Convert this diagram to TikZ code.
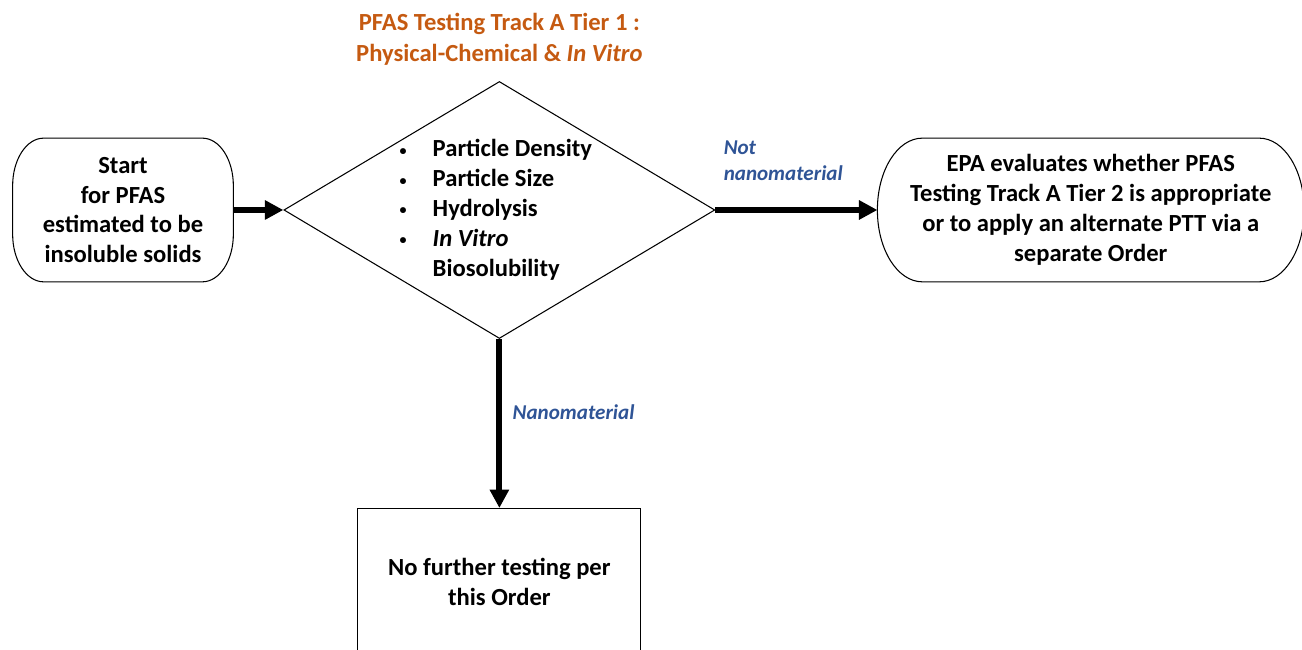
\documentclass[tikz,border=0pt]{standalone}
\usepackage{fontspec}
\setmainfont{Carlito}
\usepackage{tikz}
\usetikzlibrary{positioning,shapes.geometric,arrows.meta}
\usepackage{xcolor}
\definecolor{trackorange}{HTML}{C55A11}
\definecolor{labelblue}{HTML}{2F5496}
\newcommand{\boxfont}{\fontsize{14}{17}\selectfont\bfseries}
% terminator outline with elliptical ends: node, x radius, y radius
\newcommand{\terminatoroutline}[3]{%
  \draw[outline] ([xshift=#2]#1.north west) -- ([xshift=-#2]#1.north east)
    arc[start angle=90, end angle=0, x radius=#2, y radius=#3]
    -- ([yshift=#3]#1.south east)
    arc[start angle=0, end angle=-90, x radius=#2, y radius=#3]
    -- ([xshift=#2]#1.south west)
    arc[start angle=270, end angle=180, x radius=#2, y radius=#3]
    -- ([yshift=-#3]#1.north west)
    arc[start angle=180, end angle=90, x radius=#2, y radius=#3]
    -- cycle;}
\tikzset{
  outline/.style={line width=0.6pt, draw=black},
  terminator/.style={
    rectangle,
    minimum height=2.86cm,
    inner sep=0pt,
    align=center,
    font=\boxfont,
  },
  decision/.style={
    draw,
    diamond,
    minimum width=8.62cm,
    minimum height=5.14cm,
    inner sep=0pt,
    line width=0.6pt,
  },
  stopbox/.style={
    draw,
    rectangle,
    minimum width=5.66cm,
    minimum height=2.95cm,
    align=center,
    font=\boxfont,
    line width=0.6pt,
  },
  listtext/.style={align=left, inner sep=0pt, font=\boxfont},
  titletext/.style={align=center, inner sep=0pt, text=trackorange,
    font=\fontsize{14}{18}\selectfont\bfseries},
  edgelabel/.style={align=left, inner sep=0pt, text=labelblue,
    font=\fontsize{12}{14.7}\selectfont\bfseries\itshape},
  flow/.style={line width=3.3pt, -{Triangle[length=10.5pt, width=10.5pt]}},
}
\newcommand{\bul}{\makebox[0.56cm][l]{\hspace{-0.1cm}\raisebox{0.15ex}{\fontsize{8}{8}\selectfont\textbullet}}}

\begin{document}
\begin{tikzpicture}
  \useasboundingbox (0,0) rectangle (26.04,13);
  \node[terminator, minimum width=4.4cm] (start) at (2.46,8.8)
    {Start\\for PFAS\\estimated to be\\insoluble solids};
  \node[decision, right=1cm of start] (dec) {};
  \node[terminator, minimum width=8.52cm, right=3.24cm of dec] (epa)
    {EPA evaluates whether PFAS\\Testing Track A Tier 2 is appropriate\\or to apply an alternate PTT via a\\separate Order};
  \node[stopbox, below=3.38cm of dec] (stop) {No further testing per\\this Order};
  \terminatoroutline{start}{0.62cm}{0.95cm}
  \terminatoroutline{epa}{0.9cm}{1.43cm}

  \node[titletext, above=0.3cm of dec] (title)
    {PFAS Testing Track A Tier 1 :\\Physical-Chemical \& \textit{In Vitro}};
  \node[listtext, anchor=west] (tests) at ([xshift=-1.9cm]dec.center)
    {\bul Particle Density\\\bul Particle Size\\\bul Hydrolysis\\
     \bul\textit{In Vitro}\\\makebox[0.56cm]{}Biosolubility};

  \draw[flow] (start) -- (dec);
  \draw[flow] (dec) -- (epa);
  \draw[flow] (dec) -- (stop);

  \node[edgelabel, anchor=south west] (notnano) at ([xshift=0.16cm,yshift=0.58cm]dec.east)
    {Not\\nanomaterial};
  \node[edgelabel, anchor=west] (nano) at ([xshift=0.26cm,yshift=-1.46cm]dec.south)
    {Nanomaterial};
\end{tikzpicture}
\end{document}
